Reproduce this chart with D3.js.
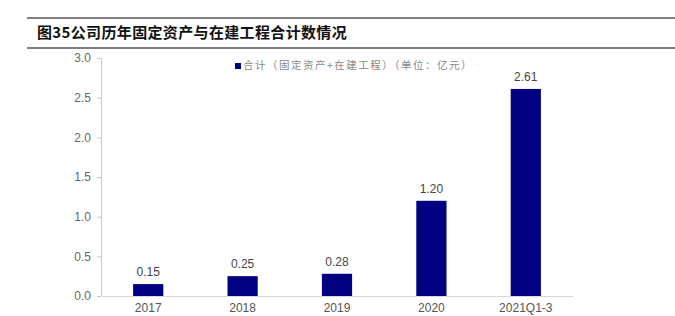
<!DOCTYPE html>
<html>
<head>
<meta charset="utf-8">
<script src="https://cdn.jsdelivr.net/npm/d3@7"></script>
<style>
  body { margin: 0; background: #fff; }
  svg { display: block; }
</style>
</head>
<body>
<svg id="chart" width="675" height="316"></svg>
<script>
const categories = ["2017", "2018", "2019", "2020", "2021Q1-3"];
const values = [0.15, 0.25, 0.28, 1.20, 2.61];
const yTicks = [0, 0.5, 1.0, 1.5, 2.0, 2.5, 3.0];
const title = "图35公司历年固定资产与在建工程合计数情况";
const legendLabel = "合计（固定资产+在建工程）（单位：亿元）";

const svg = d3.select("#chart");
const cjk = "'Noto Sans CJK SC', sans-serif";
const latin = "'Liberation Sans', Arial, sans-serif";

// header rules + title
svg.append("line").attr("x1", 27).attr("x2", 675).attr("y1", 18).attr("y2", 18)
    .attr("stroke", "#7f7f7f").attr("stroke-width", 2);
svg.append("line").attr("x1", 27).attr("x2", 675).attr("y1", 48).attr("y2", 48)
    .attr("stroke", "#7f7f7f").attr("stroke-width", 2);
svg.append("text").attr("x", 37).attr("y", 38)
    .attr("font-family", cjk).attr("font-weight", "bold").attr("font-size", 15)
    .attr("letter-spacing", 0.35)
    .attr("fill", "#111").text(title);

const margin = { top: 58, left: 101, right: 102, bottom: 20 };
const width = 675 - margin.left - margin.right;
const height = 296 - margin.top;
const g = svg.append("g").attr("transform", `translate(${margin.left},${margin.top})`);

const xScale = d3.scaleBand().domain(categories).range([0, width]).paddingInner(0.68).paddingOuter(0.34);
const yScale = d3.scaleLinear().domain([0, 3]).range([height, 0]);

// y axis
const yAxis = g.append("g").call(d3.axisLeft(yScale).tickValues(yTicks).tickFormat(d3.format(".1f")).tickSize(4));
yAxis.select(".domain").attr("stroke", "#c8c8c8").attr("d", `M-4,0.5H0.5V${height}`);
yAxis.selectAll(".tick line").attr("stroke", "#c8c8c8");
yAxis.selectAll(".tick text").attr("font-family", latin).attr("font-size", 12).attr("fill", "#666").attr("x", -10);

// x axis
const xAxis = g.append("g").attr("transform", `translate(0,${height})`)
    .call(d3.axisBottom(xScale).tickSize(0));
xAxis.select(".domain").attr("stroke", "#d8d8d8");
xAxis.selectAll(".tick text").attr("font-family", latin).attr("font-size", 12).attr("fill", "#555").attr("dy", "1.1em");

// bars
const data = categories.map((c, i) => ({ cat: c, value: values[i] }));
g.selectAll(".bar").data(data).enter().append("rect")
    .attr("class", "bar")
    .attr("x", d => xScale(d.cat))
    .attr("width", xScale.bandwidth())
    .attr("y", d => yScale(d.value))
    .attr("height", d => height - yScale(d.value))
    .attr("fill", "#000080");

g.selectAll(".lbl").data(data).enter().append("text")
    .attr("class", "lbl")
    .attr("x", d => xScale(d.cat) + xScale.bandwidth() / 2)
    .attr("y", d => yScale(d.value) - 8)
    .attr("text-anchor", "middle")
    .attr("font-family", latin).attr("font-size", 12).attr("fill", "#444")
    .text(d => d.value.toFixed(2));

// legend
svg.append("rect").attr("x", 235).attr("y", 63).attr("width", 6).attr("height", 6).attr("fill", "#000080");
svg.append("text").attr("x", 243).attr("y", 69)
    .attr("font-family", cjk).attr("font-size", 10.5).attr("fill", "#888")
    .attr("letter-spacing", 1.5)
    .text(legendLabel);
</script>
</body>
</html>
